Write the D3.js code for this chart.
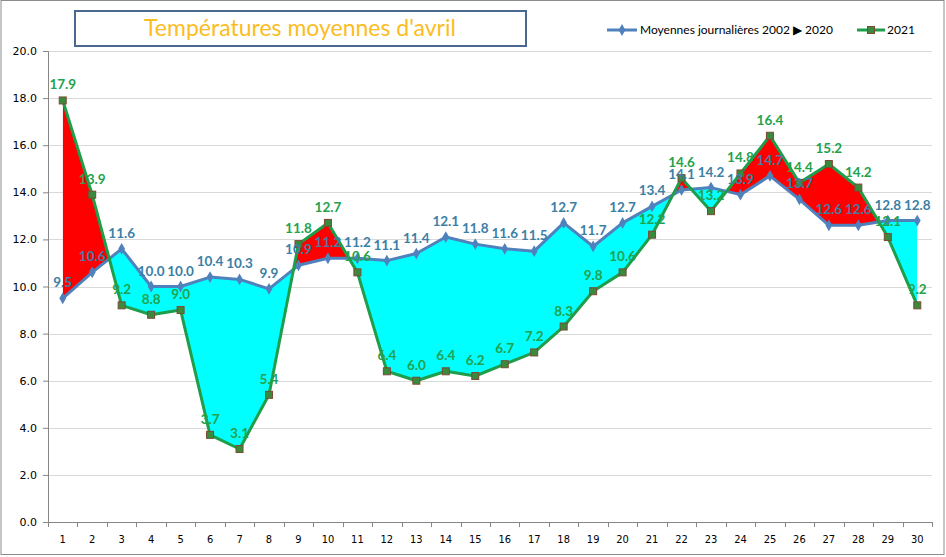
<!DOCTYPE html>
<html><head><meta charset="utf-8">
<script src="https://cdn.jsdelivr.net/npm/d3@7"></script>
<style>html,body{margin:0;padding:0;background:#fff;}svg{display:block;}</style>
</head><body>
<svg id="c" width="946" height="557"></svg>
<script>
const days = d3.range(1, 31).map(String);
const avg = [9.5,10.6,11.6,10.0,10.0,10.4,10.3,9.9,10.9,11.2,11.2,11.1,11.4,12.1,11.8,11.6,11.5,12.7,11.7,12.7,13.4,14.1,14.2,13.9,14.7,13.7,12.6,12.6,12.8,12.8];
const y2021 = [17.9,13.9,9.2,8.8,9.0,3.7,3.1,5.4,11.8,12.7,10.6,6.4,6.0,6.4,6.2,6.7,7.2,8.3,9.8,10.6,12.2,14.6,13.2,14.8,16.4,14.4,15.2,14.2,12.1,9.2];
const yTicks = [0,2,4,6,8,10,12,14,16,18,20];
const title = "Températures moyennes d'avril";
const seriesNames = ["Moyennes journalières 2002 \u25B6 2020", "2021"];

(function(){
const svg = d3.select("#c");
const pL = 48, pR = 932, pT = 51, pB = 522;

svg.append("rect").attr("x",1).attr("y",0.5).attr("width",943).attr("height",554)
  .attr("fill","#fff").attr("stroke","#8c8c8c").attr("stroke-width",1);

const xb = d3.scaleBand().domain(days).range([pL,pR]).paddingInner(0).paddingOuter(0);
const x = d => xb(d) + xb.bandwidth()/2;
const y = d3.scaleLinear().domain([0,20]).range([pB,pT]);

// gridlines
svg.append("g").selectAll("line").data(yTicks.filter(t=>t>0)).join("line")
  .attr("x1",pL).attr("x2",pR).attr("y1",d=>Math.round(y(d))+0.5).attr("y2",d=>Math.round(y(d))+0.5)
  .attr("stroke","#d9d9d9").attr("stroke-width",1);

// areas
const data = days.map((d,i)=>({d, a:avg[i], b:y2021[i]}));
const defs = svg.append("defs");
defs.append("clipPath").attr("id","aboveAvg").append("path")
  .attr("d", d3.area().x(p=>x(p.d)).y0(y(20)-50).y1(p=>y(p.a))(data));
defs.append("clipPath").attr("id","belowAvg").append("path")
  .attr("d", d3.area().x(p=>x(p.d)).y0(p=>y(p.a)).y1(y(0))(data));
svg.append("path").attr("clip-path","url(#aboveAvg)")
  .attr("d", d3.area().x(p=>x(p.d)).y0(p=>y(p.b)).y1(y(0))(data)).attr("fill","#ff0000");
svg.append("path").attr("clip-path","url(#belowAvg)")
  .attr("d", d3.area().x(p=>x(p.d)).y0(y(20)-50).y1(p=>y(p.b))(data)).attr("fill","#00ffff");

// axes
const yAxis = svg.append("g").attr("transform",`translate(${pL},0)`)
  .call(d3.axisLeft(y).tickValues(yTicks).tickFormat(d3.format(".1f")).tickSize(5).tickPadding(6));
yAxis.select(".domain").attr("stroke","#868686");
yAxis.selectAll(".tick line").attr("stroke","#868686");
yAxis.selectAll("text").attr("font-family","'DejaVu Sans', sans-serif").attr("font-size","11px").attr("fill","#000");

const xAxis = svg.append("g").attr("transform",`translate(0,${pB})`)
  .call(d3.axisBottom(xb).tickSize(0).tickPadding(13));
xAxis.select(".domain").attr("stroke","#868686").attr("d",`M${pL},0.5H${pR}`);
xAxis.selectAll("text").attr("font-family","'DejaVu Sans Condensed','DejaVu Sans', sans-serif").attr("font-size","11px").attr("fill","#000");
svg.append("g").selectAll("line").data(days.concat(["end"])).join("line")
  .attr("x1",d=>Math.round(d==="end"?pR:xb(d))+0.5).attr("x2",d=>Math.round(d==="end"?pR:xb(d))+0.5)
  .attr("y1",pB).attr("y2",pB+5).attr("stroke","#868686");

// lines
const blue = "#4f81bd", green = "#1e9e4a";
const line = key => d3.line().x(p=>x(p.d)).y(p=>y(p[key]));
svg.append("path").attr("d",line("a")(data)).attr("fill","none").attr("stroke",blue).attr("stroke-width",3).attr("stroke-linejoin","round");
svg.append("g").selectAll("path").data(data).join("path")
  .attr("d", d3.symbol(d3.symbolDiamond, 40)).attr("transform",p=>`translate(${x(p.d)},${y(p.a)})`).attr("fill",blue);
svg.append("path").attr("d",line("b")(data)).attr("fill","none").attr("stroke",green).attr("stroke-width",3).attr("stroke-linejoin","round");
svg.append("g").selectAll("rect").data(data).join("rect")
  .attr("x",p=>x(p.d)-3.5).attr("y",p=>y(p.b)-3.5).attr("width",7).attr("height",7)
  .attr("fill","#3a8a3e").attr("stroke","#7b4a32").attr("stroke-width",1);

// labels
const lab = (key,color) => svg.append("g").selectAll("text").data(data).join("text")
  .attr("x",p=>x(p.d)).attr("y",p=>y(p[key])-11).attr("text-anchor","middle")
  .attr("font-family","Lato, sans-serif").attr("font-weight","bold").attr("font-size","13.5px")
  .attr("fill",color).text(p=>p[key].toFixed(1));
lab("a","#3a7fa6");
lab("b","#22a24c");

// title
svg.append("rect").attr("x",75).attr("y",11).attr("width",451).attr("height",35)
  .attr("fill","#fff").attr("stroke","#4a6890").attr("stroke-width",2);
svg.append("text").attr("x",300).attr("y",36).attr("text-anchor","middle")
  .attr("font-family","Lato, sans-serif").attr("font-size","23px").attr("fill","#fbbd22").text(title);

// legend
const lg = svg.append("g");
lg.append("line").attr("x1",607).attr("x2",637).attr("y1",30).attr("y2",30).attr("stroke",blue).attr("stroke-width",3);
lg.append("path").attr("d",d3.symbol(d3.symbolDiamond,40)).attr("transform","translate(622,30)").attr("fill",blue);
lg.append("text").attr("x",640).attr("y",34).attr("font-family","Lato, sans-serif").attr("font-size","12px").attr("fill","#000").text(seriesNames[0]);
lg.append("line").attr("x1",857).attr("x2",885).attr("y1",30).attr("y2",30).attr("stroke",green).attr("stroke-width",3);
lg.append("rect").attr("x",867.5).attr("y",26.5).attr("width",7).attr("height",7).attr("fill","#3a8a3e").attr("stroke","#7b4a32");
lg.append("text").attr("x",887).attr("y",34).attr("font-family","Lato, sans-serif").attr("font-size","12px").attr("fill","#000").text(seriesNames[1]);
})();
</script>
</body></html>
